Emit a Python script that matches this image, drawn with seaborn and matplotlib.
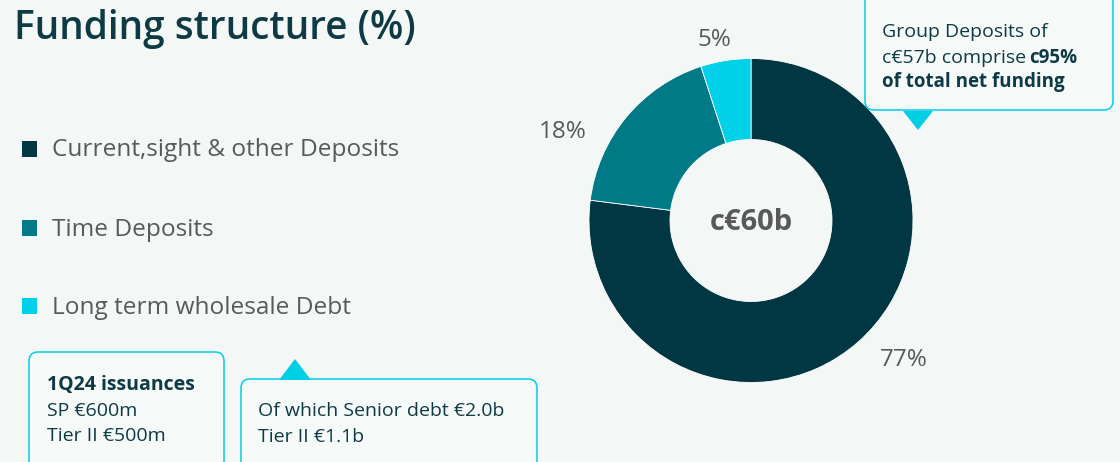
import matplotlib
matplotlib.use("Agg")
import numpy as np
import pandas as pd
import seaborn as sns
import matplotlib.pyplot as plt
from matplotlib.patches import FancyBboxPatch, Polygon

# ---------------- data ----------------
categories = ["Current,sight & other Deposits", "Time Deposits", "Long term wholesale Debt"]
shares = [77, 18, 5]
pct_labels = ["77%", "18%", "5%"]
center_label = "c€60b"
title = "Funding structure (%)"
issuance_title = "1Q24 issuances"
issuance_lines = ["SP €600m", "Tier II €500m"]
debt_lines = ["Of which Senior debt €2.0b", "Tier II €1.1b"]
callout_regular = ["Group Deposits of", "c€57b comprise "]
callout_bold = ["c95%", "of total net funding"]

colors = ["#003742", "#007A87", "#00D0E8"]

# ---------------- style ----------------
sns.set_theme(style="white")
plt.rcParams["font.family"] = ["Open Sans", "DejaVu Sans"]

W, H = 1120, 462
BG = "#F3F7F5"
DARK = "#0E3A44"
GREY = "#595959"
CYAN = "#00CFE6"

fig = plt.figure(figsize=(W / 100, H / 100), dpi=100)
fig.patch.set_facecolor(BG)

# overlay axes in pixel coordinates (y down)
ov = fig.add_axes([0, 0, 1, 1], zorder=3)
ov.patch.set_alpha(0)

# ---------------- donut ----------------
cx, cy, R = 751, 220.5, 162
half = 205
pax = fig.add_axes([(cx - half) / W, (H - cy - half) / H, 2 * half / W, 2 * half / H], zorder=1)
pax.patch.set_alpha(0)
pax.pie(shares, colors=colors, startangle=90, counterclock=False, radius=1,
        wedgeprops=dict(width=0.5, edgecolor="white", linewidth=0.6))
lim = half / R
pax.set_xlim(-lim, lim)
pax.set_ylim(-lim, lim)
pax.set_aspect("equal")
pax.axis("off")

pax.text(0, -0.01, center_label, ha="center", va="center", fontsize=21,
         fontweight="bold", color=GREY)

# label placement: mid-angle at r=1.2 with small nudges to match layout
nudges = [(0.15, 0.04), (-0.24, -0.22), (-0.04, -0.07)]
cum = 0
total = sum(shares)
for val, lab, (nx, ny) in zip(shares, pct_labels, nudges):
    mid = np.deg2rad(90 - (cum + val / 2) / total * 360)
    cum += val
    x, y = 1.2 * np.cos(mid) + nx, 1.2 * np.sin(mid) + ny
    pax.text(x, y, lab, ha="center", va="center", fontsize=17.5, color=GREY)

# ---------------- legend ----------------
rows_y = [149, 228, 306]
leg = pd.DataFrame({"x": [29.5] * 3, "y": rows_y, "cat": categories})
sns.scatterplot(data=leg, x="x", y="y", hue="cat", palette=colors, marker="s",
                s=118, linewidth=0, legend=False, ax=ov)
ov.set_xlim(0, W)
ov.set_ylim(H, 0)
ov.axis("off")
for yy, cat in zip(rows_y, categories):
    ov.text(52, yy + 1.5, cat, ha="left", va="center", fontsize=17.6, color=GREY)

# ---------------- title ----------------
ov.text(14, 29, title, ha="left", va="center", fontsize=27.9, fontweight="semibold", color=DARK)

# ---------------- boxes ----------------
def rbox(x0, y0, x1, y1):
    p = FancyBboxPatch((x0, y0), x1 - x0, y1 - y0,
                       boxstyle="round,pad=0,rounding_size=9",
                       facecolor="#F5FAF9", edgecolor=CYAN, linewidth=1.1, zorder=4)
    ov.add_patch(p)

FS = 14
rbox(29, 352, 224, 475)
rbox(241, 379, 537, 475)
ov.add_patch(Polygon([(279, 380), (295, 359), (311, 380)], closed=True,
                     facecolor=CYAN, edgecolor="none", zorder=5))

ov.text(47, 385, issuance_title, ha="left", va="center", fontsize=FS,
        fontweight="bold", color=DARK, zorder=6)
for i, t in enumerate(issuance_lines):
    ov.text(47, 411 + 25 * i, t, ha="left", va="center", fontsize=FS, color=DARK, zorder=6)
for i, t in enumerate(debt_lines):
    ov.text(258, 411 + 26 * i, t, ha="left", va="center", fontsize=FS, color=DARK, zorder=6)

# top-right callout
rbox(865, -15, 1113, 110)
ov.add_patch(Polygon([(903, 111), (918, 130), (933, 111)], closed=True,
                     facecolor=CYAN, edgecolor="none", zorder=5))
ov.text(882, 32, callout_regular[0], ha="left", va="center", fontsize=FS, color=DARK, zorder=6)
t2 = ov.text(882, 58, callout_regular[1], ha="left", va="center", fontsize=FS, color=DARK, zorder=6)
fig.canvas.draw()
r = fig.canvas.get_renderer()
bb = t2.get_window_extent(renderer=r)
ov.text(bb.x1 - 2, 58, callout_bold[0], ha="left", va="center", fontsize=FS - 0.5,
        fontweight="bold", color=DARK, zorder=6)
ov.text(882, 82, callout_bold[1], ha="left", va="center", fontsize=FS - 0.5,
        fontweight="bold", color=DARK, zorder=6)

fig.savefig("out.png", dpi=100, facecolor=BG)
